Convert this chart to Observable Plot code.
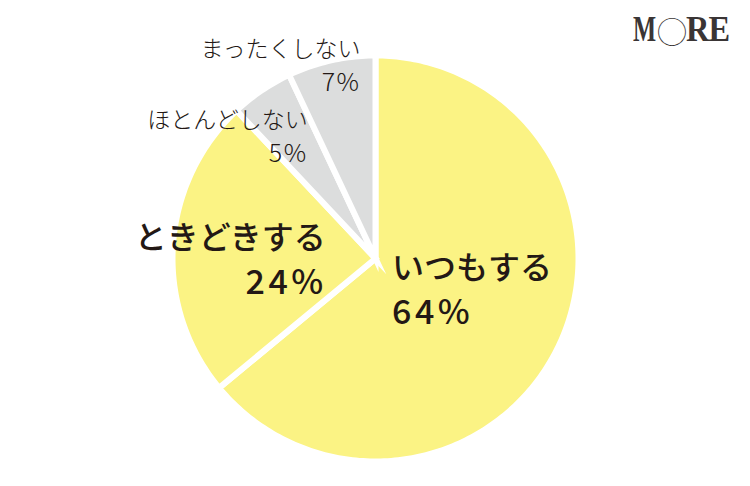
<!DOCTYPE html>
<html><head><meta charset="utf-8">
<script src="https://cdn.jsdelivr.net/npm/d3@7"></script>
<script src="https://cdn.jsdelivr.net/npm/@observablehq/plot@0.6"></script>
<style>
body{margin:0;background:#fff;}
#wrap{position:relative;width:750px;height:486px;overflow:hidden;}
.logo span{position:absolute;line-height:1;white-space:nowrap;color:#3a3535;transform-origin:left top;}
.logo .m{left:633px;top:11px;font-family:"Liberation Serif",serif;font-weight:700;font-size:36px;transform:scaleX(0.68);}
.logo .re{left:686px;top:11px;font-family:"Liberation Serif",serif;font-weight:700;font-size:36px;transform:scaleX(0.9);letter-spacing:-1px;}
.logo .o{left:657px;top:15px;font-family:"Noto Sans CJK JP",sans-serif;font-weight:300;font-size:30px;}
</style>
</head><body><div id="wrap"></div>
<script>
const categories = ["いつもする", "ときどきする", "ほとんどしない", "まったくしない"];
const values = [64, 24, 5, 7];
const pctLabels = ["64%", "24%", "5%", "7%"];
const sliceColors = ["#FBF384", "#FBF384", "#DCDDDD", "#DCDDDD"];

// label layout (pixel offsets from slice centroid)
const labelLayout = [
  {anchor: "start", size: 32, pctSize: 34, weight: 500, dx: -83, nameDy: -26, pctDy: 19, ls: "3.5px", pdx: 0},
  {anchor: "end",   size: 32, pctSize: 34, weight: 500, dx: 60,  nameDy: -3,  pctDy: 42, ls: "3.5px", pdx: 1},
  {anchor: "end",   size: 23, pctSize: 25, weight: 300, dx: -6,  nameDy: -40, pctDy: -6, ls: "1.5px", pdx: 0},
  {anchor: "end",   size: 23, pctSize: 25, weight: 300, dx: 9,   nameDy: -94, pctDy: -60, ls: "1.5px", pdx: 0}
];

const arcs = d3.pie().sort(null).value(d => d)(values);
const R = 1.015;
const poly = [];
arcs.forEach((a, i) => {
  poly.push({cat: categories[i], x: 0, y: 0});
  const n = Math.max(4, Math.ceil((a.endAngle - a.startAngle) / (Math.PI / 180)));
  for (let k = 0; k <= n; k++) {
    const t = a.startAngle + (a.endAngle - a.startAngle) * k / n;
    poly.push({cat: categories[i], x: R * Math.sin(t), y: R * Math.cos(t)});
  }
});

const labels = arcs.map((a, i) => {
  const m = (a.startAngle + a.endAngle) / 2;
  return {name: categories[i], pct: pctLabels[i], x: 0.55 * Math.sin(m), y: 0.55 * Math.cos(m)};
});

const textMarks = [];
labels.forEach((d, i) => {
  const L = labelLayout[i];
  textMarks.push(Plot.text([d], {x: "x", y: "y", text: "name", dx: L.dx, dy: L.nameDy,
    textAnchor: L.anchor, lineAnchor: "bottom", fontSize: L.size, fontWeight: L.weight, fill: "#231815"}));
  textMarks.push(Plot.text([d], {x: "x", y: "y", text: "pct", dx: L.dx + L.pdx, dy: L.pctDy,
    textAnchor: L.anchor, lineAnchor: "bottom", fontSize: L.pctSize, fontWeight: L.weight, fill: "#231815"}));
});

const chart = Plot.plot({
  width: 750, height: 486,
  marginLeft: 175, marginRight: 175, marginTop: 58, marginBottom: 28,
  x: {domain: [-1, 1], axis: null},
  y: {domain: [-1, 1], axis: null},
  color: {type: "ordinal", domain: categories, range: sliceColors},
  style: {fontFamily: "'Noto Sans CJK JP', sans-serif", background: "#fff"},
  marks: [
    Plot.line(poly, {x: "x", y: "y", z: "cat", fill: "cat", stroke: "#fff", strokeWidth: 6,
      curve: "linear-closed", strokeLinejoin: "miter", strokeMiterlimit: 10}),
    ...textMarks
  ]
});
chart.querySelectorAll("text").forEach(t => {
  const i = pctLabels.indexOf(t.textContent.trim());
  if (i >= 0) t.style.letterSpacing = labelLayout[i].ls;
});
const wrap = document.getElementById("wrap");
wrap.appendChild(chart);
const logo = document.createElement("div");
logo.className = "logo";
logo.innerHTML = '<span class="m">M</span><span class="o">◯</span><span class="re">RE</span>';
wrap.appendChild(logo);
</script>
</body></html>
